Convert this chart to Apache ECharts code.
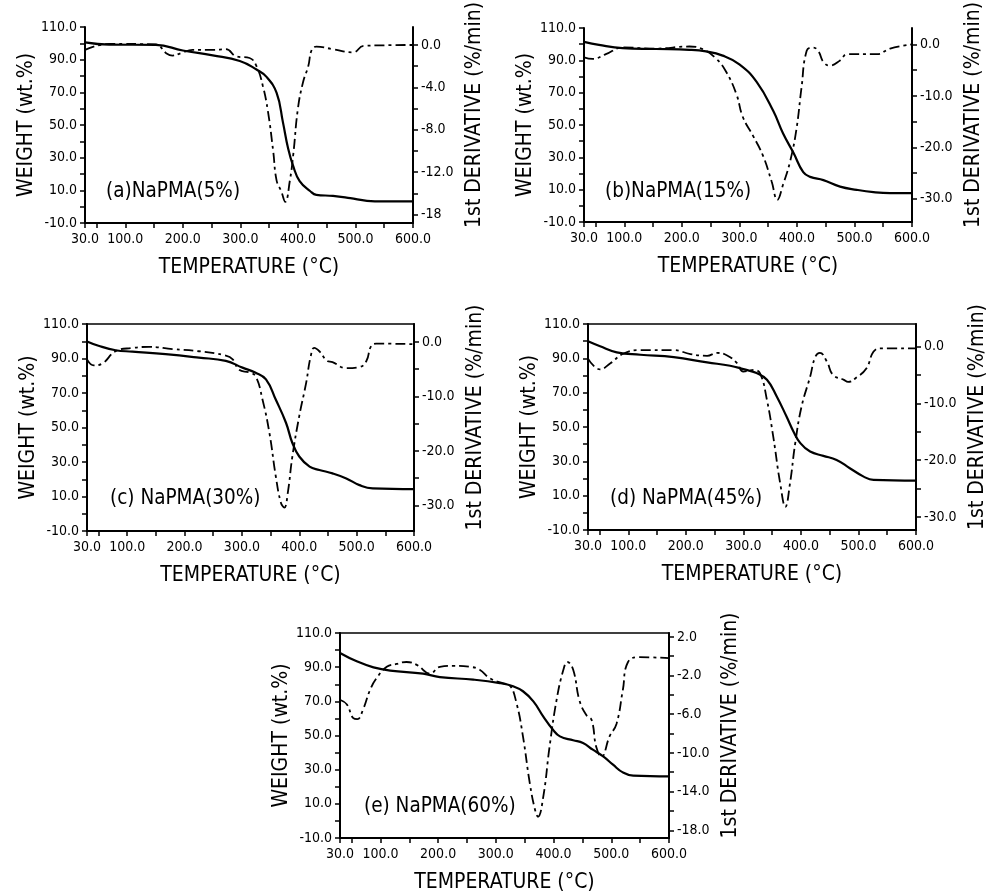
<!DOCTYPE html>
<html><head><meta charset="utf-8">
<script src="https://cdn.jsdelivr.net/npm/echarts@6/dist/echarts.min.js"></script>
<style>html,body{margin:0;padding:0;background:#fff}#c{width:991px;height:895px}</style>
</head><body><div id="c"></div>
<script>
// ---------- data ----------
const xLabelValues = [30,100,200,300,400,500,600];
const xTickValues = [30,50,100,150,200,250,300,350,400,450,500,550,600];
const leftTickValues = [-10,0,10,20,30,40,50,60,70,80,90,100,110];

const panelLabels = ['(a)NaPMA(5%)','(b)NaPMA(15%)','(c) NaPMA(30%)','(d) NaPMA(45%)','(e) NaPMA(60%)'];

const rightLabelValsA = [0,-4,-8,-12,-16];
const rightLabelTextA = ['0.0','-4.0','-8.0','-12.0','-18'];
const rightTickValsA = [0,-2,-4,-6,-8,-10,-12,-14,-16];
const rightLabelValsBCD = [0,-10,-20,-30];
const rightLabelTextBCD = ['0.0','-10.0','-20.0','-30.0'];
const rightTickValsBCD = [0,-5,-10,-15,-20,-25,-30];
const rightLabelValsE = [2,-2,-6,-10,-14,-18];
const rightLabelTextE = ['2.0','-2.0','-6.0','-10.0','-14.0','-18.0'];
const rightTickValsE = [2,0,-2,-4,-6,-8,-10,-12,-14,-16,-18];

// panel (a)
const A_weightT = [30,72,153,200,252,299,328,345,363,374,383,392,403,421,432,461,491,520,549,600];
const A_weight  = [100.6,99.2,99.0,95.6,92.6,89.2,84.0,79.6,69.6,51.6,35.6,24.6,15.6,9.6,7.2,6.6,5.2,3.6,3.2,3.2];
const A_derivT  = [30,72,153,171,182,197,217,252,275,293,316,328,339,348,357,363,371,378,386,392,400,409,418,424,432,461,496,514,549,600];
const A_deriv   = [-0.46,0.1,0.06,-0.77,-1.0,-0.77,-0.46,-0.46,-0.4,-1.08,-1.23,-2.0,-3.85,-6.3,-10.0,-12.8,-13.8,-14.8,-12.8,-10.3,-6.0,-3.5,-2.0,-0.46,-0.15,-0.4,-0.7,-0.09,-0.03,0];
// panel (b)
const B_weightT = [30,56,97,155,213,242,271,300,330,359,376,394,411,423,446,475,504,533,562,600];
const B_weight  = [101.4,99.5,97.5,97.0,96.5,95.5,92.9,87.5,76.6,58.6,44.7,32.8,20.8,17.9,15.9,11.9,9.9,8.5,7.9,7.9];
const B_derivT  = [30,45,68,97,155,213,236,260,277,295,306,324,341,356,366,376,388,399,408,417,428,437,446,457,475,487,504,539,562,600];
const B_deriv   = [-2.5,-2.8,-1.9,-0.6,-0.8,-0.4,-0.9,-2.8,-5.3,-9.7,-14.1,-17.8,-21.6,-26.6,-30.2,-27.2,-22.8,-16.6,-8.4,-1.25,-0.6,-1.25,-3.4,-4.1,-3.1,-1.9,-1.9,-1.9,-0.8,0];
// panel (c)
const C_weightT = [30,50,80,109,167,225,272,301,324,342,359,377,388,400,418,435,458,482,505,528,600];
const C_weight  = [99.9,97.4,94.8,94.0,92.5,90.5,88.6,84.7,81.8,77.9,66.2,52.6,41.0,33.2,27.3,25.4,23.4,20.5,16.6,14.7,14.3];
const C_derivT  = [30,42,56,80,109,138,179,225,272,284,295,313,324,336,348,359,368,374,380,388,400,412,420,426,435,449,458,482,505,517,525,534,600];
const C_deriv   = [-3.2,-4.3,-4.0,-1.7,-1.1,-0.9,-1.3,-1.7,-2.5,-3.2,-5.1,-5.6,-6.3,-10.6,-16.7,-24.6,-29.5,-30.4,-27.7,-21.0,-13.6,-7.5,-2.6,-1.1,-1.7,-3.5,-3.7,-4.8,-4.6,-3.5,-0.8,-0.3,-0.4];
// panel (d)
const D_weightT = [30,51,80,121,179,237,277,300,323,341,358,375,387,399,416,439,462,485,509,526,600];
const D_weight  = [99.9,97.0,93.5,92.1,90.7,87.6,85.7,83.7,81.4,77.5,67.8,56.1,47.4,40.6,35.7,33.2,30.8,26.0,21.1,19.2,18.8];
const D_derivT  = [30,51,69,92,121,179,208,237,254,271,289,300,318,329,341,352,364,373,381,390,401,416,425,433,445,456,474,482,497,514,526,538,600];
const D_deriv   = [-2.1,-4.0,-2.9,-1.2,-0.6,-0.6,-1.3,-1.6,-1.1,-1.5,-2.9,-4.4,-4.1,-4.7,-9.4,-15.9,-24.1,-28.2,-24.1,-17.1,-10.6,-5.3,-1.8,-1.1,-2.6,-5.0,-5.8,-6.2,-5.4,-3.8,-0.9,-0.3,-0.3];
// panel (e)
const E_weightT = [30,59,88,117,174,203,261,307,330,347,365,382,399,411,434,451,468,486,503,520,538,600];
const E_weight  = [98.3,93.4,89.9,88.0,86.2,84.2,82.7,80.7,78.8,75.9,70.0,61.2,53.4,49.5,47.2,45.6,41.7,37.8,32.9,28.4,26.5,26.1];
const E_derivT  = [30,42,53,60,70,82,93,111,128,145,163,186,203,226,255,272,290,313,324,336,347,359,368,373,382,393,405,417,424,434,445,457,466,474,483,497,509,520,529,549,600];
const E_deriv   = [-4.5,-5.0,-6.4,-6.5,-5.5,-3.5,-2.3,-1.1,-0.8,-0.6,-0.9,-1.8,-1.1,-1.0,-1.1,-1.4,-2.3,-2.8,-3.0,-4.9,-8.3,-13.2,-15.9,-16.6,-14.6,-9.4,-4.6,-1.4,-0.6,-1.4,-4.6,-6.1,-6.6,-9.4,-10.4,-8.3,-7.0,-3.5,-0.6,-0.1,-0.2];

// ---------- layout ----------
const FONT = '"DejaVu Sans Condensed","Liberation Sans Narrow","Roboto Condensed",Roboto,sans-serif';
const zip = (a,b) => a.map((v,i)=>[v,b[i]]);

const panels = [
  {grid:{left:85,top:23,width:328,height:200}, border:false, rMin:-16.8, rMax:1.7,
   rLab:rightLabelValsA, rTxt:rightLabelTextA, rTick:rightTickValsA, wT:A_weightT, w:A_weight, dT:A_derivT, d:A_deriv, lab:[106,181]},
  {grid:{left:584,top:21,width:328,height:201}, border:false, rMin:-34.5, rMax:3.2,
   rLab:rightLabelValsBCD, rTxt:rightLabelTextBCD, rTick:rightTickValsBCD, wT:B_weightT, w:B_weight, dT:B_derivT, d:B_deriv, lab:[605,181]},
  {grid:{left:87,top:324,width:327,height:207}, border:true, rMin:-34.7, rMax:3.3,
   rLab:rightLabelValsBCD, rTxt:rightLabelTextBCD, rTick:rightTickValsBCD, wT:C_weightT, w:C_weight, dT:C_derivT, d:C_deriv, lab:[110,488]},
  {grid:{left:588,top:324,width:328,height:206}, border:true, rMin:-32.3, rMax:4.0,
   rLab:rightLabelValsBCD, rTxt:rightLabelTextBCD, rTick:rightTickValsBCD, wT:D_weightT, w:D_weight, dT:D_derivT, d:D_deriv, lab:[610,488]},
  {grid:{left:340,top:633,width:329,height:205}, border:true, rMin:-18.8, rMax:2.4,
   rLab:rightLabelValsE, rTxt:rightLabelTextE, rTick:rightTickValsE, wT:E_weightT, w:E_weight, dT:E_derivT, d:E_deriv, lab:[364,796]}
];

const grids=[], xAxes=[], yAxes=[], series=[], titles=[];
const axisLine = {show:true, onZero:false, lineStyle:{color:'#000', width:2}};
const tickStyle = {color:'#000', width:1.5};
const labStyle = {color:'#000', fontSize:14, fontFamily:FONT};

panels.forEach((p,i)=>{
  grids.push(Object.assign({}, p.grid, {show:p.border, borderColor:'#000', borderWidth:1.5, backgroundColor:'transparent', containLabel:false}));
  xAxes.push({gridIndex:i, type:'value', min:30, max:600,
    axisLine, axisTick:{show:true, customValues:xTickValues, length:5, lineStyle:tickStyle},
    axisLabel:Object.assign({customValues:xLabelValues, formatter:v=>v.toFixed(1), margin:9}, labStyle),
    splitLine:{show:false},
    name:'TEMPERATURE (°C)', nameLocation:'middle', nameGap:34,
    nameTextStyle:{color:'#000', fontSize:21, fontFamily:FONT}});
  yAxes.push({gridIndex:i, type:'value', min:-10, max:110, interval:20, position:'left',
    axisLine, axisTick:{show:true, customValues:leftTickValues, length:5, lineStyle:tickStyle},
    axisLabel:Object.assign({formatter:v=>v.toFixed(1), margin:8}, labStyle),
    splitLine:{show:false},
    name:'WEIGHT (wt.%)', nameLocation:'middle', nameGap:48,
    nameTextStyle:{color:'#000', fontSize:21, fontFamily:FONT}});
  const txt = p.rTxt, vals = p.rLab;
  yAxes.push({gridIndex:i, type:'value', min:p.rMin, max:p.rMax, position:'right',
    axisLine, axisTick:{show:true, customValues:p.rTick, length:5, lineStyle:tickStyle},
    axisLabel:Object.assign({customValues:vals, margin:8, formatter:v=>{
      const k = vals.findIndex(u=>Math.abs(u-v)<1e-6); return k>=0 ? txt[k] : '';}}, labStyle),
    splitLine:{show:false},
    name:'1st DERIVATIVE (%/min)', nameLocation:'middle', nameGap:51,
    nameTextStyle:{color:'#000', fontSize:21, fontFamily:FONT, padding:[0,0,0,20]}});
  series.push({type:'line', xAxisIndex:i, yAxisIndex:2*i, data:zip(p.wT,p.w), showSymbol:false, symbol:'none',
    smooth:0.45, lineStyle:{color:'#000', width:2.2}, silent:true});
  series.push({type:'line', xAxisIndex:i, yAxisIndex:2*i+1, data:zip(p.dT,p.d), showSymbol:false, symbol:'none',
    smooth:0.45, lineStyle:{color:'#000', width:1.8, type:[10,4,3,4]}, silent:true});
  titles.push({text:panelLabels[i], left:p.lab[0], top:p.lab[1], padding:0,
    textStyle:{color:'#000', fontSize:20.5, fontWeight:'normal', fontFamily:FONT}});
});

const chart = echarts.init(document.getElementById('c'), null, {renderer:'canvas'});
chart.setOption({backgroundColor:'#fff', animation:false, title:titles, grid:grids, xAxis:xAxes, yAxis:yAxes, series});
</script>
</body></html>
